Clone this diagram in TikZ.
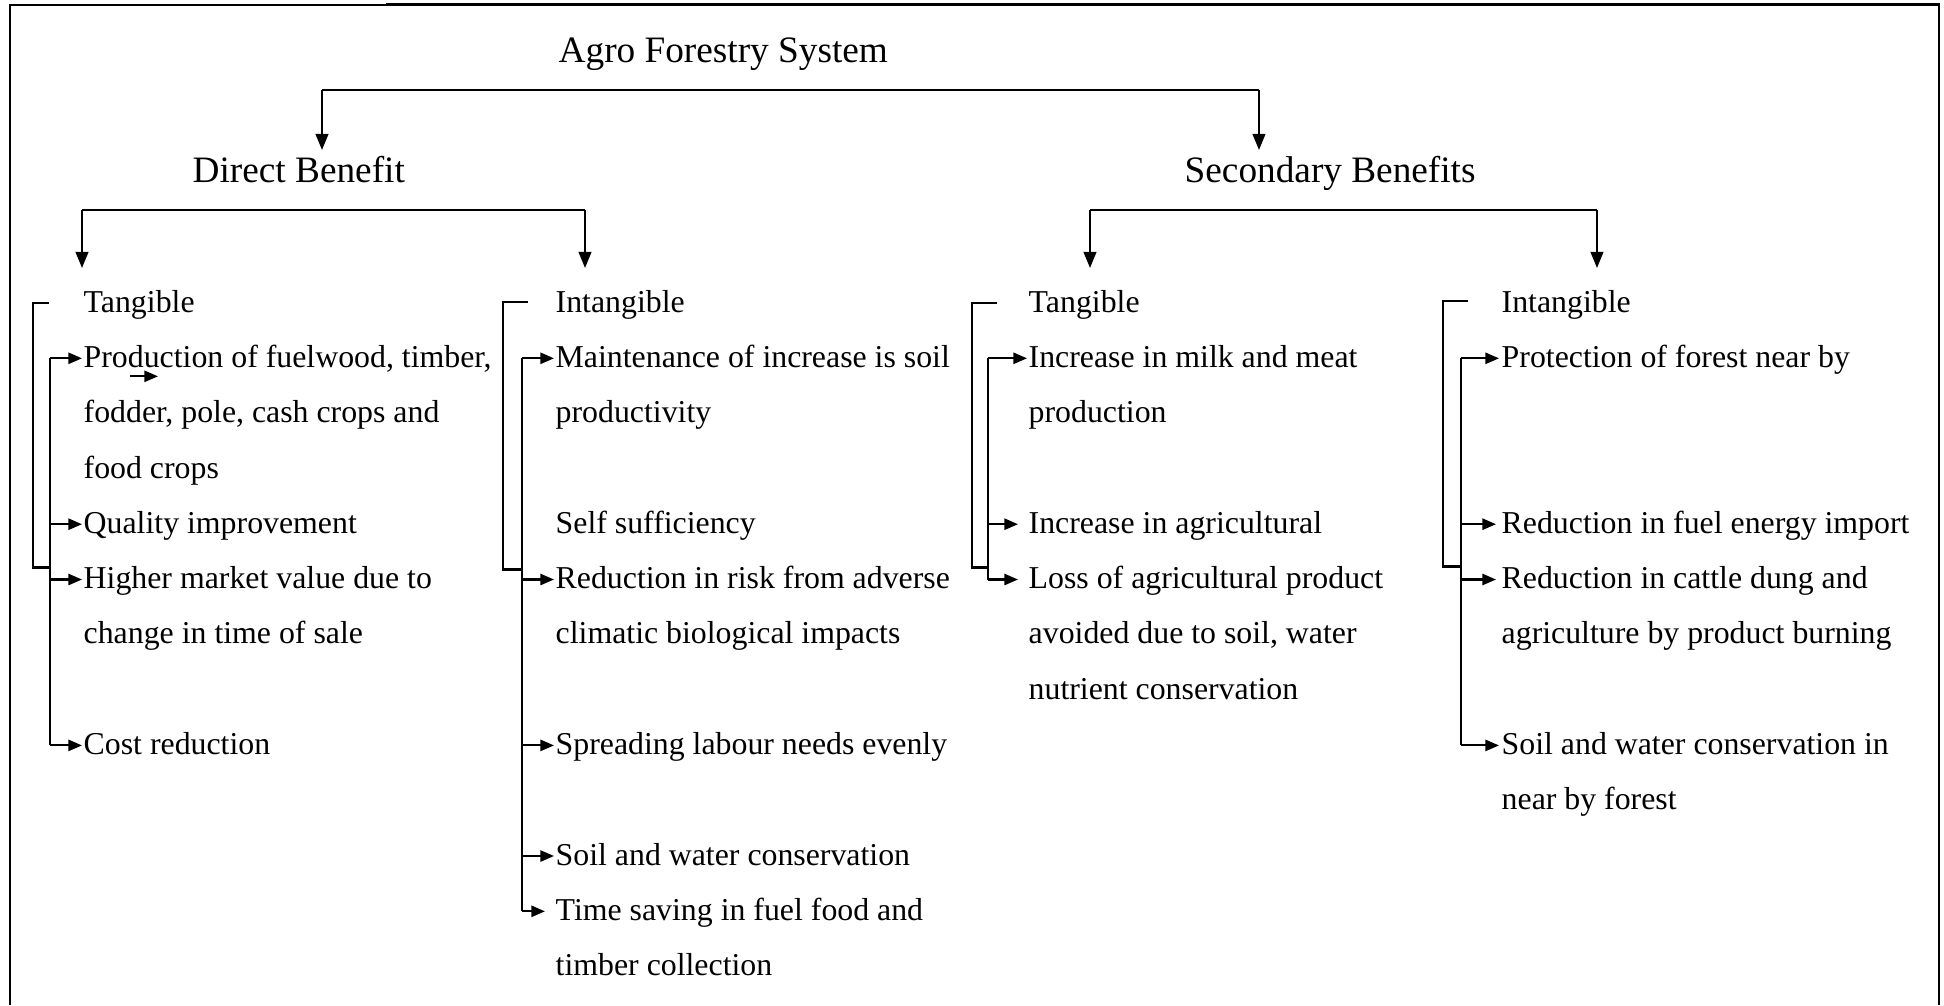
\documentclass[tikz,border=0pt]{standalone}
\usepackage{fontspec}
\setmainfont{Liberation Serif}
\usetikzlibrary{arrows.meta, positioning, calc}

% lines of one entry, the first line on the node's baseline
\newcommand{\entrylines}[1]{\begin{tabular}[t]{@{}l@{}}#1\end{tabular}}

\tikzset{
  head/.style={font=\fontsize{10.6}{12}\selectfont, inner sep=0pt, anchor=base west},
  item/.style={font=\fontsize{9.05}{15.74}\selectfont, inner sep=0pt, anchor=base west},
  bar/.style={line width=0.65pt},
  drop/.style={bar, -{Triangle[length=4.6pt, width=3.6pt]}},
  link/.style={line width=0.6pt},
  tip/.style={link, -{Triangle[length=3.9pt, width=3.2pt]}},
  frame/.style={line width=0.8pt}
}

\begin{document}
\begin{tikzpicture}[x=0.01cm, y=-0.01cm]
  \useasboundingbox (0,0) rectangle (1944,1005);

  % Page frame (open at the bottom)
  \draw[line width=0.45pt] (10,5) -- (386,5);
  \draw[frame] (10,4) -- (10,1005);
  \draw[frame] (386,4.5) -- (1939,4.5) -- (1939,1005);

  % Headings
  \node[head] (afs) at (558,62) {Agro Forestry System};
  \node[head] (db) at (192,182) {Direct Benefit};
  \node[head] (sb) at (1184,182) {Secondary Benefits};

  % Main split
  \coordinate (ml) at (322,90);
  \coordinate (mr) at (1259,90);
  \draw[bar] (ml) -- (mr);
  \draw[drop] (ml) -- ++(0,60);
  \draw[drop] (mr) -- ++(0,60);

  % Splits below the two benefits
  \coordinate (dl) at (82,210);
  \coordinate (dr) at (585,210);
  \draw[bar] (dl) -- (dr);
  \draw[drop] (dl) -- ++(0,58);
  \draw[drop] (dr) -- ++(0,58);
  \coordinate (sl) at (1090,210);
  \coordinate (sr) at (1597,210);
  \draw[bar] (sl) -- (sr);
  \draw[drop] (sl) -- ++(0,58);
  \draw[drop] (sr) -- ++(0,58);

  % Direct benefit - tangible
  \node[item] (dt) at (83,312) {Tangible};
  \node[item] (dt1) at (83,367.3) {\entrylines{Production of fuelwood, timber,\\fodder, pole, cash crops and\\food crops}};
  \node[item] (dt2) at (83,533.2) {Quality improvement};
  \node[item] (dt3) at (83,588.5) {\entrylines{Higher market value due to\\change in time of sale}};
  \node[item] (dt4) at (83,754.4) {Cost reduction};
  \draw[link] ($(dt.base west)+(-34,-9)$) -- ++(-16,0) |- ($(dt3.base west)+(-33,-21)$);
  \draw[link] ($(dt1.base west)+(-33,-9)$) -- ($(dt4.base west)+(-33,-9)$);
  \draw[tip] ($(dt1.base west)+(-33,-9)$) -- ++(32,0);
  \draw[tip] ($(dt2.base west)+(-33,-9)$) -- ++(32,0);
  \draw[tip] ($(dt3.base west)+(-33,-9)$) -- ++(32,0);
  \draw[tip] ($(dt4.base west)+(-33,-9)$) -- ++(32,0);
  \draw[tip] ($(dt1.base west)+(47,9)$) -- ++(28,0);

  % Direct benefit - intangible
  \node[item] (di) at (555,312) {Intangible};
  \node[item] (di1) at (555,367.3) {\entrylines{Maintenance of increase is soil\\productivity}};
  \node[item] (di2) at (555,533.2) {Self sufficiency};
  \node[item] (di3) at (555,588.5) {\entrylines{Reduction in risk from adverse\\climatic biological impacts}};
  \node[item] (di4) at (555,754.4) {Spreading labour needs evenly};
  \node[item] (di5) at (555,865) {Soil and water conservation};
  \node[item] (di6) at (555,920.3) {\entrylines{Time saving in fuel food and\\timber collection}};
  \draw[link] ($(di.base west)+(-27,-10)$) -- ++(-25,0) |- ($(di3.base west)+(-33,-19)$);
  \draw[link] ($(di1.base west)+(-33,-9)$) -- ($(di6.base west)+(-33,-9)$);
  \draw[tip] ($(di1.base west)+(-33,-9)$) -- ++(32,0);
  \draw[tip] ($(di3.base west)+(-33,-9)$) -- ++(32,0);
  \draw[tip] ($(di4.base west)+(-33,-9)$) -- ++(32,0);
  \draw[tip] ($(di5.base west)+(-33,-9)$) -- ++(32,0);
  \draw[tip] ($(di6.base west)+(-33,-9)$) -- ++(23,0);

  % Secondary benefits - tangible
  \node[item] (st) at (1028,312) {Tangible};
  \node[item] (st1) at (1028,367.3) {\entrylines{Increase in milk and meat\\production}};
  \node[item] (st2) at (1028,533.2) {Increase in agricultural};
  \node[item] (st3) at (1028,588.5) {\entrylines{Loss of agricultural product\\avoided due to soil, water\\nutrient conservation}};
  \draw[link] ($(st.base west)+(-31,-9)$) -- ++(-25,0) |- ($(st3.base west)+(-40,-21)$);
  \draw[link] ($(st1.base west)+(-40,-9)$) -- ($(st3.base west)+(-40,-9)$);
  \draw[tip] ($(st1.base west)+(-40,-9)$) -- ++(39,0);
  \draw[tip] ($(st2.base west)+(-40,-9)$) -- ++(30,0);
  \draw[tip] ($(st3.base west)+(-40,-9)$) -- ++(30,0);

  % Secondary benefits - intangible
  \node[item] (si) at (1501,312) {Intangible};
  \node[item] (si1) at (1501,367.3) {Protection of forest near by};
  \node[item] (si2) at (1501,533.2) {Reduction in fuel energy import};
  \node[item] (si3) at (1501,588.5) {\entrylines{Reduction in cattle dung and\\agriculture by product burning}};
  \node[item] (si4) at (1501,754.4) {\entrylines{Soil and water conservation in\\near by forest}};
  \draw[link] ($(si.base west)+(-33,-11)$) -- ++(-25,0) |- ($(si3.base west)+(-40,-22)$);
  \draw[link] ($(si1.base west)+(-40,-9)$) -- ($(si4.base west)+(-40,-9)$);
  \draw[tip] ($(si1.base west)+(-40,-9)$) -- ++(38,0);
  \draw[tip] ($(si2.base west)+(-40,-9)$) -- ++(35,0);
  \draw[tip] ($(si3.base west)+(-40,-9)$) -- ++(35,0);
  \draw[tip] ($(si4.base west)+(-40,-9)$) -- ++(38,0);
\end{tikzpicture}
\end{document}
